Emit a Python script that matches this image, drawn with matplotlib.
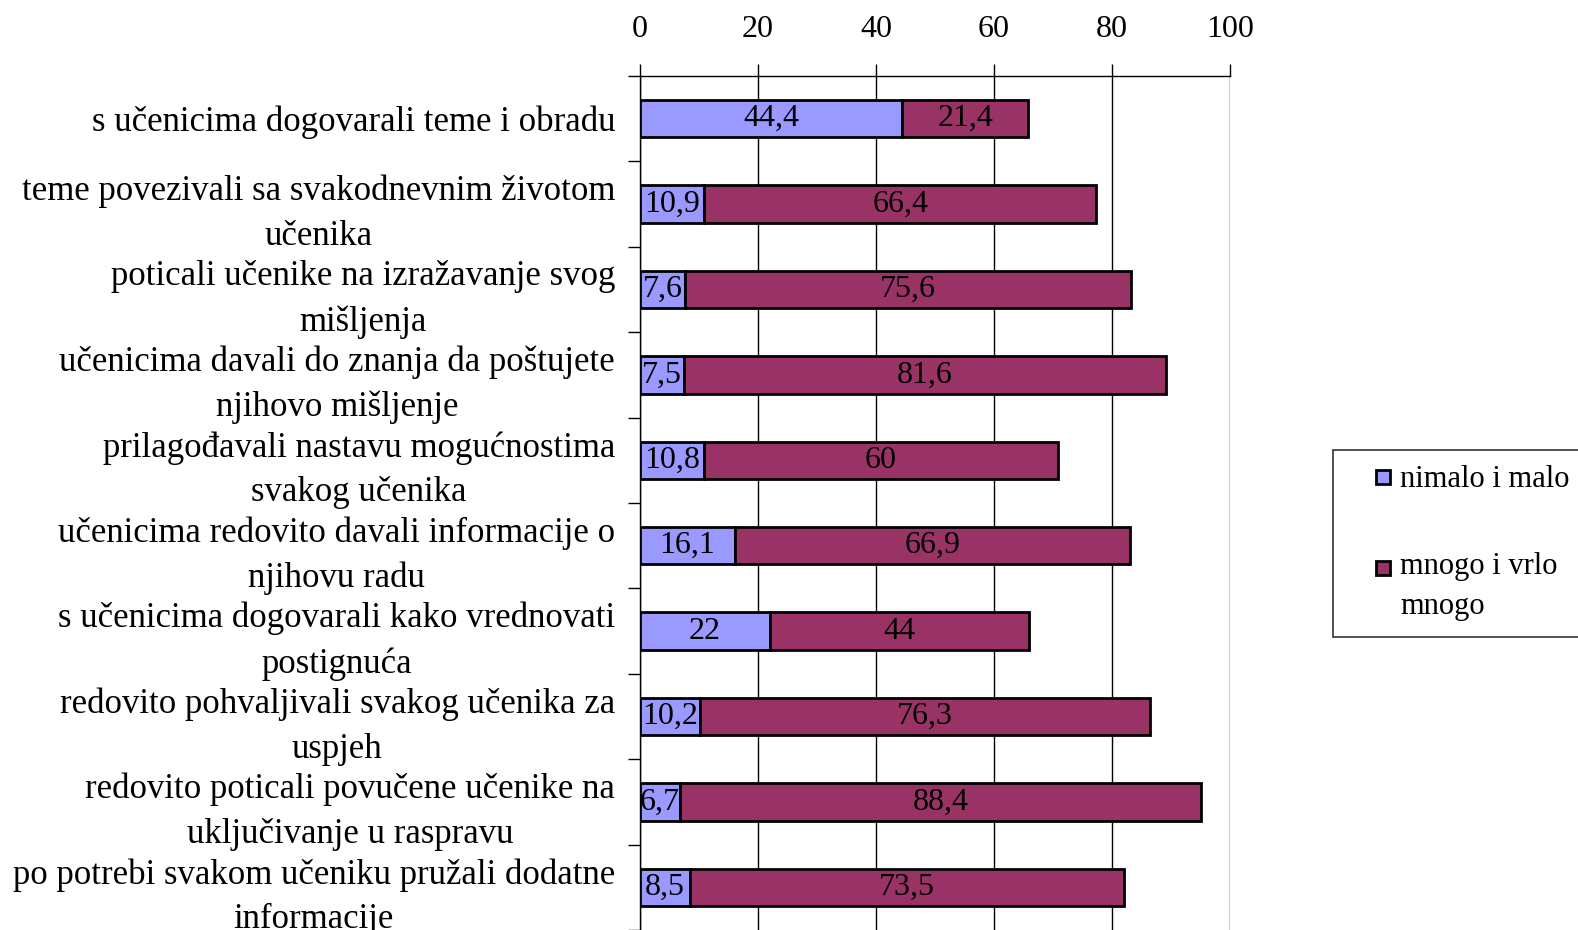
import matplotlib
matplotlib.use("Agg")
import matplotlib.pyplot as plt
from matplotlib.lines import Line2D
import numpy as np

categories = [
    "s učenicima dogovarali teme i obradu",
    "teme povezivali sa svakodnevnim životom\nučenika",
    "poticali učenike na izražavanje svog\nmišljenja",
    "učenicima davali do znanja da poštujete\nnjihovo mišljenje",
    "prilagođavali nastavu mogućnostima\nsvakog učenika",
    "učenicima redovito davali informacije o\nnjihovu radu",
    "s učenicima dogovarali kako vrednovati\npostignuća",
    "redovito pohvaljivali svakog učenika za\nuspjeh",
    "redovito poticali povučene učenike na\nuključivanje u raspravu",
    "po potrebi svakom učeniku pružali dodatne\ninformacije",
]
nimalo = [44.4, 10.9, 7.6, 7.5, 10.8, 16.1, 22, 10.2, 6.7, 8.5]
mnogo = [21.4, 66.4, 75.6, 81.6, 60, 66.9, 44, 76.3, 88.4, 73.5]
nimalo_lbl = ["44,4", "10,9", "7,6", "7,5", "10,8", "16,1", "22", "10,2", "6,7", "8,5"]
mnogo_lbl = ["21,4", "66,4", "75,6", "81,6", "60", "66,9", "44", "76,3", "88,4", "73,5"]
series_names = ["nimalo i malo", "mnogo i vrlo\nmnogo"]
xticks = [0, 20, 40, 60, 80, 100]
colors = ["#9999FF", "#993366"]

plt.rcParams['font.family'] = ['Liberation Serif', 'DejaVu Serif']
FS = 23
FS_CAT = 25
FS_LEG = 22

fig = plt.figure(figsize=(15.78, 9.3), dpi=100)
ax = fig.add_axes([640/1578, 0.0, 590/1578, 1 - 76/930])

y = np.arange(len(categories))
h = 0.44
b1 = ax.barh(y, nimalo, height=h, color=colors[0], edgecolor="black", linewidth=2, zorder=3)
b2 = ax.barh(y, mnogo, left=nimalo, height=h, color=colors[1], edgecolor="black", linewidth=2, zorder=3)
ax.bar_label(b1, labels=nimalo_lbl, label_type="center", fontsize=FS, color="black", zorder=4)
ax.bar_label(b2, labels=mnogo_lbl, label_type="center", fontsize=FS, color="black", zorder=4)

ax.set_xlim(0, 100)
ax.set_ylim(len(categories) - 0.5, -0.5)
ax.set_yticks(y)
ax.set_yticklabels(categories, fontsize=FS_CAT, multialignment="center", linespacing=1.47)
ax.set_yticks(np.arange(-0.5, len(categories), 1.0), minor=True)
ax.tick_params(axis="y", which="major", length=0, pad=18)
ax.tick_params(axis="y", which="minor", length=9, width=1, color="black", direction="out")

ax.xaxis.tick_top()
ax.set_xticks(xticks)
ax.set_xticklabels([str(t) for t in xticks], fontsize=FS)
ax.tick_params(axis="x", which="major", length=9, width=1, direction="out", pad=14)

ax.grid(axis="x", color="black", linewidth=1, zorder=0)
ax.set_axisbelow(True)
for s in ["bottom", "right"]:
    ax.spines[s].set_visible(False)
ax.spines["top"].set_linewidth(1)
ax.spines["left"].set_linewidth(1)

handles = [Line2D([], [], linestyle="none", marker="s", markersize=10,
                  markerfacecolor=c, markeredgecolor="black", markeredgewidth=2)
           for c in colors]
leg = fig.legend(handles=handles, labels=series_names, loc="upper left",
                 bbox_to_anchor=(1333/1578, 1 - 450/930), fontsize=FS_LEG,
                 frameon=True, fancybox=False, edgecolor="#333333", framealpha=1,
                 handlelength=2.25, handletextpad=-0.55,
                 labelspacing=1.9, borderpad=0.5, borderaxespad=0)
leg.get_frame().set_linewidth(1.2)
for t in leg.get_texts():
    t.set_linespacing(1.5)
# align second handle with the first line of its two-line label
lh = leg.legend_handles[1]
yd = np.asarray(lh.get_ydata(), dtype=float)
lh.set_ydata(yd + 14)

fig.savefig("out.png", dpi=100)
